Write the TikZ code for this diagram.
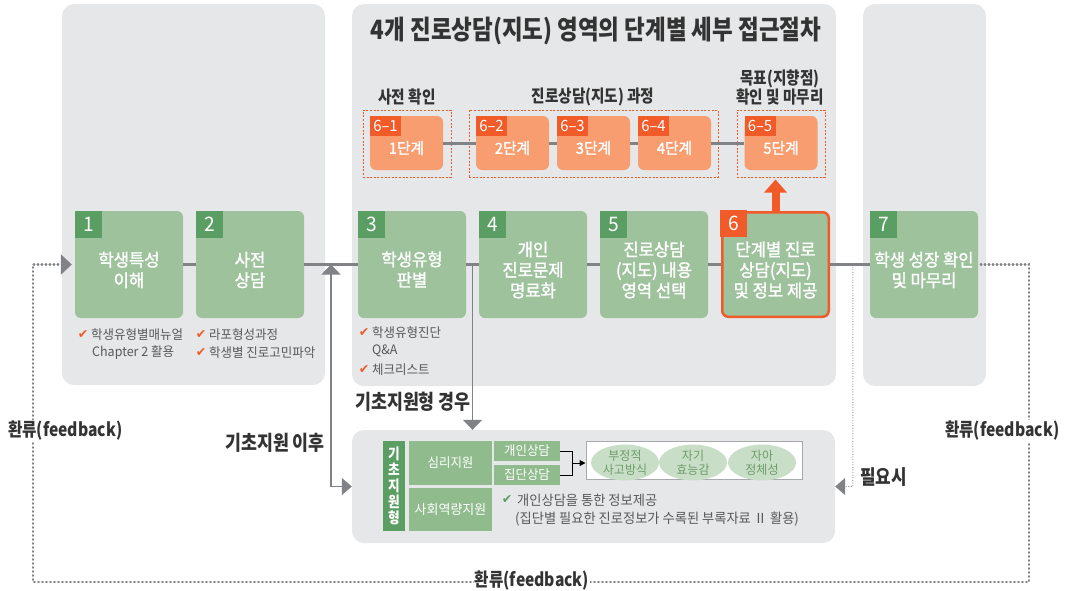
\documentclass[tikz,border=0pt]{standalone}
\usepackage{fontspec}
\setmainfont{Noto Sans CJK KR}[FakeStretch=0.96, BoldFeatures={FakeStretch=0.845}]
\newfontfamily\medfont{Noto Sans CJK KR}[FakeStretch=0.95, FakeBold=1.6]
\newfontfamily\symfont{DejaVu Sans}
\usetikzlibrary{arrows.meta,calc,shapes.geometric}
\definecolor{panel}{HTML}{E6E7E8}
\definecolor{gbox}{HTML}{9DC29C}
\definecolor{gtag}{HTML}{5B9E63}
\definecolor{gsub}{HTML}{8FBB8D}
\definecolor{obox}{HTML}{F89D70}
\definecolor{otag}{HTML}{F15A29}
\definecolor{lgray}{HTML}{808285}
\definecolor{tgray}{HTML}{58595B}
\definecolor{dark}{HTML}{333333}
\definecolor{ell}{HTML}{C9DEC6}
\definecolor{elltxt}{HTML}{6E9D6C}
\definecolor{wbord}{HTML}{A7A9AC}
\tikzset{
  panelbox/.style={fill=panel, rounded corners=12pt, inner sep=0},
  gbx/.style={fill=gbox, rounded corners=6pt, minimum width=108, minimum height=107, inner sep=0},
  numtag/.style={fill=gtag, minimum size=27, inner sep=0, text=white, font=\fontsize{20}{20}\selectfont, anchor=north west},
  btxt/.style={text=white, align=center, font=\medfont\fontsize{17.5}{20.5}\selectfont, inner sep=0},
  obx/.style={fill=obox, rounded corners=6pt, minimum width=73, minimum height=54, inner sep=0},
  otg/.style={fill=otag, minimum width=31, minimum height=20, inner sep=0, text=white, font=\fontsize{15.5}{15.5}\selectfont, anchor=north west},
  otxt/.style={text=white, font=\medfont\fontsize{15.5}{15.5}\selectfont, inner sep=0},
  dashbox/.style={draw=otag, line width=1pt, dash pattern=on 2pt off 1.6pt, inner sep=0},
  mainln/.style={lgray, line width=3pt},
  fbk/.style={lgray, line width=2.4pt, line cap=round, dash pattern=on 0.6pt off 3.4pt},
  lbl/.style={text=dark, font=\bfseries\fontsize{20.5}{20.5}\selectfont, inner sep=0},
  fblbl/.style={text=dark, font=\bfseries\fontsize{18.5}{18.5}\selectfont, inner sep=1pt, fill=white},
  sublbl/.style={text=dark, align=center, font=\bfseries\fontsize{17.3}{19}\selectfont, inner sep=0},
  bul/.style={text=tgray, font=\fontsize{13}{13}\selectfont, inner sep=0, anchor=west},
  chk/.style={text=otag, font=\symfont\fontsize{12.5}{12.5}\selectfont, inner sep=0},
  subbox/.style={fill=gsub, inner sep=0, text=white, font=\fontsize{13}{13}\selectfont},
  ellnode/.style={ellipse, fill=ell, minimum width=68, minimum height=31, inner sep=0, text=elltxt, align=center, font=\fontsize{12.5}{14}\selectfont},
  thinarrow/.style={lgray, line width=1.6pt}
}
\begin{document}
\begin{tikzpicture}[x=1pt,y=-1pt]
\useasboundingbox (0,0) rectangle (1065,590);
% panels
\node[panelbox, minimum width=263, minimum height=381] (lp) at (193.5,194.5) {};
\node[panelbox, minimum width=484, minimum height=382] (cp) at (594,195) {};
\node[panelbox, minimum width=123, minimum height=382] (rp) at (924.5,195) {};
\node[panelbox, minimum width=483, minimum height=113] (bp) at (593.5,486.5) {};
% title
\node[text=dark, font=\bfseries\fontsize{26.6}{26.6}\selectfont, inner sep=0] (title) at (596,31) {4개 진로상담(지도) 영역의 단계별 세부 접근절차};
% sub labels
\node[sublbl] (sl1) at (407,97) {사전 확인};
\node[sublbl] (sl2) at (593,97) {진로상담(지도) 과정};
\node[sublbl] (sl3) at (780,87.5) {목표(지향점)\\확인 및 마무리};
% dashed groups
\node[dashbox, minimum width=88, minimum height=67] (d1) at (407,143.5) {};
\node[dashbox, minimum width=249, minimum height=67] (d2) at (593.5,143.5) {};
\node[dashbox, minimum width=88, minimum height=67] (d3) at (781,143.5) {};
% orange boxes
\node[obx] (o1) at (406.5,143) {};
\node[obx] (o2) at (512.5,143) {};
\node[obx] (o3) at (593.5,143) {};
\node[obx] (o4) at (674.5,143) {};
\node[obx] (o5) at (781,143) {};
\draw[mainln] (o1.east) -- (o2.west) (o2.east) -- (o3.west) (o3.east) -- (o4.west) (o4.east) -- (o5.west);
\node[otg] at (o1.north west) {6–1};
\node[otg] at (o2.north west) {6–2};
\node[otg] at (o3.north west) {6–3};
\node[otg] at (o4.north west) {6–4};
\node[otg] at (o5.north west) {6–5};
\node[otxt] at ($(o1.center)+(0,5)$) {1단계};
\node[otxt] at ($(o2.center)+(0,5)$) {2단계};
\node[otxt] at ($(o3.center)+(0,5)$) {3단계};
\node[otxt] at ($(o4.center)+(0,5)$) {4단계};
\node[otxt] at ($(o5.center)+(0,5)$) {5단계};
% green boxes
\node[gbx] (b1) at (129,264.5) {};
\node[gbx] (b2) at (250,264.5) {};
\node[gbx] (b3) at (412,264.5) {};
\node[gbx] (b4) at (533,264.5) {};
\node[gbx] (b5) at (654,264.5) {};
\node[gbx, draw=otag, line width=2.5pt, minimum width=106.5, minimum height=104.5] (b6) at (775.5,264.5) {};
\node[gbx] (b7) at (924,264.5) {};
% main line
\draw[mainln] (b1.east) -- (b2.west) (b2.east) -- (b3.west) (b3.east) -- (b4.west) (b4.east) -- (b5.west) (b5.east) -- (b6.west) (b6.east) -- (b7.west);
% tags
\node[numtag] at (b1.north west) {1};
\node[numtag] at (b2.north west) {2};
\node[numtag] at (b3.north west) {3};
\node[numtag] at (b4.north west) {4};
\node[numtag] at (b5.north west) {5};
\node[numtag, fill=otag] at ($(b6.north west)+(-1.25,-1.25)$) {6};
\node[numtag] at (b7.north west) {7};
% box texts
\node[btxt] at ($(b1.center)+(0,5.5)$) {학생특성\\이해};
\node[btxt] at ($(b2.center)+(0,5.5)$) {사전\\상담};
\node[btxt] at ($(b3.center)+(0,5)$) {학생유형\\판별};
\node[btxt] at ($(b4.center)+(0,5.5)$) {개인\\진로문제\\명료화};
\node[btxt] at ($(b5.center)+(0,5.5)$) {진로상담\\(지도) 내용\\영역 선택};
\node[btxt] at ($(b6.center)+(0,5.5)$) {단계별 진로\\상담(지도)\\및 정보 제공};
\node[btxt] at ($(b7.center)+(0,5.5)$) {학생 성장 확인\\및 마무리};
% orange arrow
\draw[otag, line width=8pt, -{Triangle[length=13pt,width=22pt]}] (b6.north) -- ($(b6.north |- d3.south)+(0,2)$);
% bullets
\node[chk] at (83,335) {✔};
\node[bul] at (91,335) {학생유형별매뉴얼};
\node[bul] at (92,353) {Chapter 2 활용};
\node[chk] at (201,335) {✔};
\node[bul] at (209,335) {라포형성과정};
\node[chk] at (201,353) {✔};
\node[bul] at (209,353) {학생별 진로고민파악};
\node[chk] at (364,333) {✔};
\node[bul] at (372,333) {학생유형진단};
\node[bul] at (372,351) {Q\&A};
\node[chk] at (364,370) {✔};
\node[bul] at (372,370) {체크리스트};
% feedback loop
\coordinate (fb1) at (1029,264.5);
\coordinate (fb2) at (1029,582);
\coordinate (fb3) at (33,582);
\coordinate (fb4) at (33,264.5);
\draw[fbk, -{Triangle[length=11pt,width=20pt]}] ($(b7.east)+(2.5,0)$) -- (fb1) -- (fb2) -- (fb3) -- (fb4) -- ($(b1.west)+(-3,0)$);
\node[fblbl] (fbb) at (532,581) {환류(feedback)};
\node[fblbl, anchor=west] (fbl) at (7,431) {환류(feedback)};
\node[fblbl, anchor=west] (fbr) at (944,431) {환류(feedback)};
% after basic support
\coordinate (j0) at ($(b2.east)!0.5!(b3.west)$);
\draw[thinarrow, {Triangle[length=10pt,width=19pt]}-{Triangle[length=10pt,width=17pt]}] (j0) -- (j0 |- bp.west) -- (bp.west);
\node[lbl, anchor=east] (lj) at (325,443) {기초지원 이후};
% basic support case
\coordinate (k0) at ($(b3.east)!0.5!(b4.west)$);
\draw[thinarrow, -{Triangle[length=10pt,width=19pt]}] (k0) -- (k0 |- bp.north);
\node[lbl, anchor=west] (lk) at (355,402) {기초지원형 경우};
% when needed
\coordinate (n0) at ($(b6.east)!0.575!(b7.west)$);
\draw[lgray, line width=1.2pt, line cap=round, dash pattern=on 0pt off 2.6pt, -{Triangle[length=10pt,width=17pt]}] (n0) -- (n0 |- bp.east) -- (bp.east);
\node[lbl, font=\bfseries\fontsize{20}{20}\selectfont, anchor=west] (ln) at (860,477) {필요시};
% bottom panel contents
\node[fill=gtag, minimum width=22, minimum height=90, inner sep=0, text=white, align=center, font=\bfseries\fontsize{15}{16}\selectfont] (vt) at (394,486) {기\\초\\지\\원\\형};
\node[subbox, minimum width=83, minimum height=44] (s1) at (450.5,463) {심리지원};
\node[subbox, minimum width=83, minimum height=43, font=\fontsize{13.5}{13.5}\selectfont] (s2) at (450.5,509.5) {사회역량지원};
\node[subbox, minimum width=66, minimum height=20] (c1) at (527,451) {개인상담};
\node[subbox, minimum width=66, minimum height=20] (c2) at (527,475) {집단상담};
\node[fill=white, draw=wbord, line width=1pt, minimum width=216, minimum height=38, inner sep=0] (wb) at (694,460) {};
\node[ellnode] (e1) at (625,462.5) {부정적\\사고방식};
\node[ellnode] (e2) at (693,462.5) {자기\\효능감};
\node[ellnode] (e3) at (762,462.5) {자아\\정체성};
\coordinate (br) at ($(c1.east)!0.5!(c2.east)+(12,0)$);
\draw[black, line width=1pt] (c1.east) -| (br) |- (c2.east);
\draw[black, line width=1pt, -{Triangle[length=6pt,width=6pt]}] (br) -- (wb.west |- br);
\node[chk, text=gtag] at (507,500) {✔};
\node[bul, font=\fontsize{13.8}{13.8}\selectfont] at (517,500) {개인상담을 통한 정보제공};
\node[bul, font=\fontsize{13.8}{13.8}\selectfont] at (515,519) {(집단별 필요한 진로정보가 수록된 부록자료 Ⅱ 활용)};
\end{tikzpicture}
\end{document}
